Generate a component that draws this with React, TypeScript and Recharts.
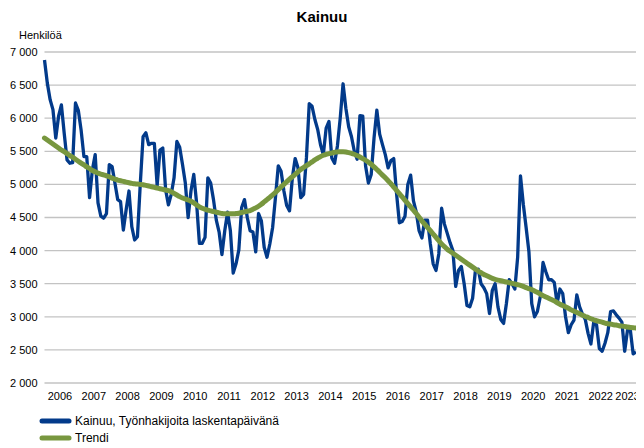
import React from 'react';
import { LineChart, Line, XAxis, YAxis, CartesianGrid } from 'recharts';

const title = 'Kainuu';
const unitLabel = 'Henkilöä';
const seriesName = 'Kainuu, Työnhakijoita laskentapäivänä';
const trendName = 'Trendi';
const startYear = 2006;

const yTicks = [2000, 2500, 3000, 3500, 4000, 4500, 5000, 5500, 6000, 6500, 7000];

// Monthly values from January 2006
const jobSeekers = [
  6880, 6530, 6280, 6130, 5700, 6030, 6200, 5770, 5370, 5320, 5330, 6230,
  6120, 5820, 5420, 5420, 4800, 5220, 5450, 4720, 4520, 4490, 4560, 5300,
  5270, 5020, 4770, 4740, 4310, 4620, 4900, 4360, 4160, 4210, 5000, 5720,
  5780, 5600, 5620, 5620, 4980, 5520, 5550, 4920, 4690, 4850, 5100, 5650,
  5560, 5300, 5020, 4500, 4900, 5150, 4720, 4110, 4110, 4200, 5100, 5020,
  4770, 4460, 4280, 3940, 4300, 4580, 4300, 3660, 3800, 4010, 4650, 4770,
  4500, 4300, 4280, 3980, 4560, 4450, 4050, 3900, 4100, 4350, 4800, 5280,
  5200, 4900, 4680, 4600, 5100, 5390, 5250, 4800, 4850, 5400, 6220, 6180,
  5980, 5830, 5600, 5450, 5850, 5950, 5400, 5320, 5580, 6000, 6520, 6150,
  5870, 5720, 5500, 5380, 6040, 6030, 5280, 5020, 5150, 5700, 6120, 5760,
  5600, 5450, 5250, 5360, 5390, 4860, 4420, 4440, 4520, 5000, 5140, 4750,
  4580, 4300, 4190, 4460, 4460, 4100, 3800, 3700, 3950, 4640, 4400, 4260,
  4120, 4000, 3460, 3700, 3760, 3500, 3170, 3150, 3280, 3700, 3720, 3500,
  3440, 3350, 3050, 3400, 3500, 3150, 2960, 2900, 3200, 3560, 3500, 3420,
  3900, 5130, 4700, 4350, 3980, 3200, 3000, 3080, 3300, 3820, 3680, 3560,
  3560, 3520, 3200, 3420, 3350, 3000, 2760, 2880, 2950, 3330, 3150, 3040,
  2960, 2750, 2590, 2920, 2880, 2520, 2480, 2600, 2760, 3080, 3090, 3030,
  2980, 2920, 2480, 2800, 2800, 2440, 2470,
];

const trend = [
  5700, 5670, 5640, 5610, 5580, 5550, 5520, 5495, 5465, 5435, 5410, 5380,
  5350, 5320, 5295, 5265, 5240, 5210, 5190, 5170, 5155, 5145, 5130, 5115,
  5095, 5080, 5065, 5055, 5045, 5035, 5025, 5015, 5010, 5005, 5000, 4995,
  4985, 4975, 4965, 4955, 4945, 4935, 4925, 4915, 4905, 4890, 4865, 4840,
  4815, 4795, 4780, 4765, 4745, 4720, 4690, 4660, 4640, 4625, 4610, 4600,
  4590, 4580, 4570, 4560, 4555, 4555, 4555, 4555, 4560, 4565, 4575, 4585,
  4595, 4605, 4625, 4645, 4670, 4700, 4735, 4770, 4805, 4840, 4880, 4920,
  4960, 5000, 5040, 5080, 5115, 5150, 5190, 5225, 5255, 5285, 5310, 5340,
  5370, 5395, 5420, 5440, 5455, 5465, 5475, 5485, 5490, 5495, 5495, 5490,
  5480, 5470, 5455, 5435, 5415, 5390, 5365, 5335, 5305, 5265, 5225, 5185,
  5140, 5100, 5055, 5010, 4960, 4910, 4860, 4810, 4760, 4710, 4660, 4610,
  4560, 4505, 4450, 4400, 4350, 4300, 4250, 4200, 4150, 4100, 4060, 4020,
  3990, 3960, 3930, 3900, 3870, 3840, 3810, 3780, 3750, 3720, 3690, 3665,
  3640, 3620, 3600, 3580, 3565, 3555, 3545, 3535, 3525, 3515, 3505, 3495,
  3485, 3475, 3460, 3440, 3425, 3410, 3390, 3370, 3345, 3320, 3300, 3280,
  3260, 3240, 3215, 3190, 3170, 3150, 3130, 3105, 3085, 3065, 3045, 3025,
  3005, 2990, 2970, 2955, 2940, 2930, 2920, 2905, 2895, 2890, 2880, 2875,
  2865, 2860, 2855, 2845, 2840, 2835, 2830,
];

const rows = jobSeekers.map((v, i) => ({
  i,
  year: startYear + Math.floor(i / 12),
  v,
  t: trend[i],
}));

// label position for each year: middle of that year's months in the data
const yearLabels: string[] = [];
const yearTicks: number[] = [];
{
  const groups: Record<number, number[]> = {};
  rows.forEach((r) => {
    (groups[r.year] = groups[r.year] || []).push(r.i);
  });
  Object.keys(groups)
    .map(Number)
    .sort((a, b) => a - b)
    .forEach((y) => {
      const idx = groups[y];
      yearTicks.push((idx[0] + idx[idx.length - 1]) / 2);
      yearLabels.push(String(y));
    });
}

const FONT = '"Liberation Sans", Arial, sans-serif';
const BLUE = '#023a8a';
const GREEN = '#78973f';

const fmtThousands = (n: number) => {
  const s = String(n);
  return s.length > 3 ? s.slice(0, s.length - 3) + ' ' + s.slice(-3) : s;
};

export default function App() {
  return (
    <div style={{ position: 'relative', width: 636, height: 440, fontFamily: FONT }}>
      <LineChart
        width={636}
        height={440}
        data={rows}
        margin={{ top: 44, right: 1, bottom: 35, left: 0 }}
      >
        <CartesianGrid vertical={false} stroke="#c3c3c3" strokeWidth={1.3} />
        <XAxis
          dataKey="i"
          type="number"
          domain={[0, 212.5]}
          ticks={yearTicks}
          tickFormatter={(val: number) => yearLabels[yearTicks.indexOf(val)] ?? ''}
          axisLine={false}
          tickLine={false}
          tickSize={0}
          tickMargin={9}
          height={30}
          interval={0}
          tick={{ fill: '#000', fontSize: 11, fontFamily: FONT }}
        />
        <YAxis
          type="number"
          domain={[2000, 7000]}
          ticks={yTicks}
          tickFormatter={fmtThousands}
          axisLine={false}
          tickLine={false}
          tickSize={0}
          tickMargin={7}
          width={36.5}
          interval={0}
          tick={{ fill: '#000', fontSize: 11, fontFamily: FONT }}
        />
        <Line
          dataKey="v"
          name={seriesName}
          type="linear"
          stroke={BLUE}
          strokeWidth={3.3}
          dot={false}
          isAnimationActive={false}
          strokeLinejoin="round"
        />
        <Line
          dataKey="t"
          name={trendName}
          type="monotone"
          stroke={GREEN}
          strokeWidth={5}
          dot={false}
          isAnimationActive={false}
          strokeLinecap="round"
        />
      </LineChart>
      <svg
        width={636}
        height={440}
        style={{ position: 'absolute', left: 0, top: 0, pointerEvents: 'none' }}
      >
        <text x={314} y={14} textAnchor="middle" fontSize={15} fontWeight="bold" fontFamily={FONT} fill="#000">
          {title}
        </text>
        <text x={11} y={31} fontSize={11} fontFamily={FONT} fill="#000">
          {unitLabel}
        </text>
        <line x1={34} x2={61} y1={413} y2={413} stroke={BLUE} strokeWidth={5} strokeLinecap="round" />
        <text x={67} y={417} fontSize={12} fontFamily={FONT} fill="#000">
          {seriesName}
        </text>
        <line x1={34} x2={61} y1={430} y2={430} stroke={GREEN} strokeWidth={5} strokeLinecap="round" />
        <text x={67} y={434} fontSize={12} fontFamily={FONT} fill="#000">
          {trendName}
        </text>
      </svg>
    </div>
  );
}
